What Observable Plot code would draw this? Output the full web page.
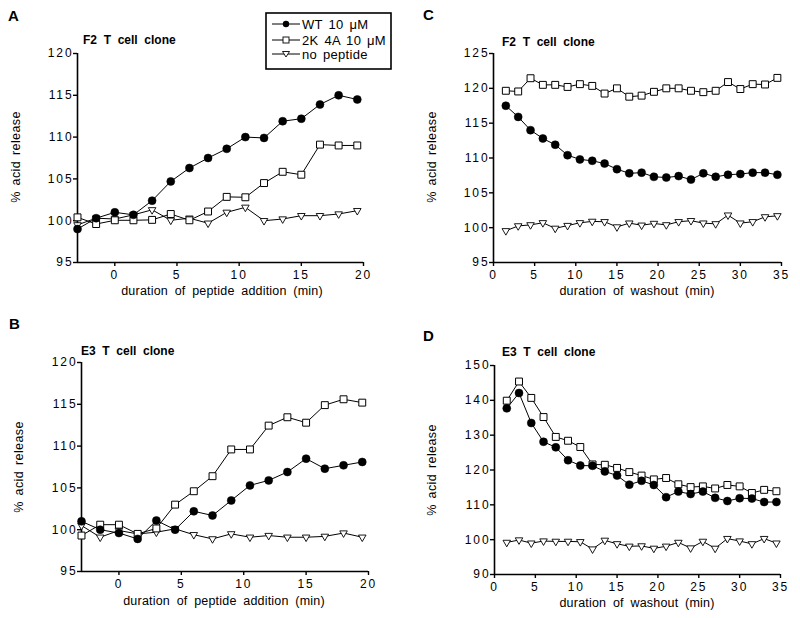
<!DOCTYPE html>
<html><head><meta charset="utf-8">
<script src="https://cdn.jsdelivr.net/npm/d3@7"></script>
<script src="https://cdn.jsdelivr.net/npm/@observablehq/plot@0.6"></script>
<style>
html,body{margin:0;padding:0;background:#fff;}
#root{position:relative;width:800px;height:618px;overflow:hidden;font-family:"Liberation Sans",Arial,Helvetica,sans-serif;background:#fff;}
.panel{position:absolute;}
.panel svg text{letter-spacing:1.9px;}
#overlay{position:absolute;left:0;top:0;}
</style></head><body><div id="root"></div>
<script>
// ---- data ----
const seriesNames = ["WT 10 μM", "2K 4A 10 μM", "no peptide"];
const timeAdd = [-3, -1.5, 0, 1.5, 3, 4.5, 6, 7.5, 9, 10.5, 12, 13.5, 15, 16.5, 18, 19.5];
const timeWash = [1.5, 3, 4.5, 6, 7.5, 9, 10.5, 12, 13.5, 15, 16.5, 18, 19.5, 21, 22.5, 24, 25.5, 27, 28.5, 30, 31.5, 33, 34.5];

// Panel A: F2, peptide addition
const aWT   = [99.0, 100.3, 101.0, 100.7, 102.4, 104.7, 106.3, 107.5, 108.6, 110.0, 109.9, 111.9, 112.2, 113.9, 115.0, 114.5];
const a2K4A = [100.4, 99.6, 100.05, 100.05, 100.1, 100.8, 100.05, 101.1, 102.85, 102.8, 104.5, 105.85, 105.5, 109.1, 109.0, 109.0];
const aNone = [99.5, 100.3, 100.2, 100.7, 101.3, 100.05, 100.3, 99.7, 101.0, 101.6, 100.0, 100.2, 100.6, 100.6, 100.8, 101.2];

// Panel B: E3, peptide addition
const bWT   = [101.0, 100.0, 99.6, 98.9, 101.1, 100.0, 102.2, 101.7, 103.5, 105.3, 105.9, 106.9, 108.5, 107.3, 107.7, 108.1];
const b2K4A = [99.3, 100.6, 100.6, 99.5, 100.15, 103.0, 104.6, 106.4, 109.6, 109.6, 112.45, 113.45, 112.8, 114.9, 115.6, 115.2];
const bNone = [100.5, 99.1, 99.9, 99.5, 99.7, 100.1, 99.4, 98.9, 99.5, 99.1, 99.3, 99.1, 99.1, 99.2, 99.6, 99.1];

// Panel C: F2, washout
const cWT   = [117.5, 115.9, 114.0, 112.8, 111.9, 110.4, 109.8, 109.6, 109.2, 108.4, 107.8, 107.9, 107.3, 107.2, 107.4, 106.9, 107.8, 107.3, 107.6, 107.7, 107.9, 107.9, 107.6];
const c2K4A = [119.65, 119.55, 121.45, 120.5, 120.5, 120.2, 120.6, 120.35, 119.25, 120.0, 118.8, 118.95, 119.5, 120.0, 120.0, 119.65, 119.45, 119.65, 120.9, 119.9, 120.6, 120.55, 121.5];
const cNone = [99.55, 100.25, 100.4, 100.7, 99.9, 100.3, 100.7, 100.9, 100.85, 100.1, 100.65, 100.35, 100.6, 100.4, 100.85, 101.0, 100.65, 100.55, 101.8, 100.65, 100.85, 101.55, 101.7];

// Panel D: E3, washout
const dWT   = [137.7, 142.1, 133.5, 128.1, 126.5, 122.8, 121.3, 121.2, 119.6, 118.4, 115.8, 116.9, 115.7, 112.2, 113.8, 113.1, 113.8, 112.0, 111.1, 111.9, 111.8, 110.8, 110.8];
const d2K4A = [139.9, 145.4, 140.7, 135.2, 129.5, 128.4, 126.6, 121.6, 121.5, 120.6, 119.4, 118.4, 117.3, 117.7, 115.9, 115.1, 115.3, 114.7, 115.7, 115.3, 113.4, 114.3, 113.9];
const dNone = [99.2, 99.9, 99.0, 99.6, 99.5, 99.5, 99.4, 97.3, 99.8, 98.8, 98.1, 98.2, 97.5, 98.1, 99.2, 97.6, 99.5, 97.5, 100.3, 99.6, 98.8, 100.3, 99.0];

const ticksAdd = [0, 5, 10, 15, 20];
const ticksWash = [0, 5, 10, 15, 20, 25, 30, 35];
const ticksY120 = [95, 100, 105, 110, 115, 120];
const ticksY125 = [95, 100, 105, 110, 115, 120, 125];
const ticksY150 = [90, 100, 110, 120, 130, 140, 150];

const panelLetters = ["A", "B", "C", "D"];
const cloneTitles = ["F2  T  cell  clone", "E3  T  cell  clone", "F2  T  cell  clone", "E3  T  cell  clone"];
const yLabel = "% acid release";
const xLabelAdd = "duration of peptide addition (min)";
const xLabelWash = "duration of washout (min)";

// ---- drawing ----
const root = document.getElementById("root");
const FONT = '"Liberation Sans", Arial, Helvetica, sans-serif';

const triDown = {
  draw(ctx, size) {
    const y = Math.sqrt(size / (3 * Math.sqrt(3)));
    ctx.moveTo(0, 2 * y);
    ctx.lineTo(Math.sqrt(3) * y, -y);
    ctx.lineTo(-Math.sqrt(3) * y, -y);
    ctx.closePath();
  }
};

function panel(cfg) {
  const rows = [];
  cfg.series.forEach((vals, i) => vals.forEach((v, j) => rows.push({t: cfg.time[j], v, s: i})));
  const svg = Plot.plot({
    width: cfg.w, height: cfg.h,
    marginLeft: cfg.m[0], marginRight: cfg.m[1], marginTop: cfg.m[2], marginBottom: cfg.m[3],
    x: {domain: cfg.xDomain},
    y: {domain: cfg.yDomain},
    style: {fontFamily: FONT, fontSize: "12px", color: "black", background: "transparent", overflow: "visible"},
    marks: [
      Plot.ruleX([cfg.xDomain[0]], {stroke: "black", strokeWidth: 1.6}),
      Plot.ruleY([cfg.yDomain[0]], {stroke: "black", strokeWidth: 1.6}),
      Plot.axisX({ticks: cfg.xTicks, tickSize: 4, tickPadding: 4, label: null, strokeWidth: 1.4}),
      Plot.axisY({ticks: cfg.yTicks, tickSize: 4, tickPadding: 0, label: null, strokeWidth: 1.4}),
      Plot.line(rows, {x: "t", y: "v", z: "s", stroke: "black", strokeWidth: 1}),
      Plot.dot(rows.filter(d => d.s === 2), {x: "t", y: "v", symbol: triDown, r: 2.8, fill: "white", stroke: "black", strokeWidth: 0.9}),
      Plot.dot(rows.filter(d => d.s === 1), {x: "t", y: "v", symbol: "square", r: 3.9, fill: "white", stroke: "black", strokeWidth: 1}),
      Plot.dot(rows.filter(d => d.s === 0), {x: "t", y: "v", symbol: "circle", r: 4, fill: "black", stroke: "black", strokeWidth: 0.5})
    ]
  });
  const div = document.createElement("div");
  div.className = "panel";
  div.style.left = cfg.left + "px";
  div.style.top = cfg.top + "px";
  div.appendChild(svg);
  root.appendChild(div);
}

panel({left: 0, top: 0, w: 400, h: 300, m: [77, 37, 53, 38], xDomain: [-3, 20], yDomain: [95, 120],
  xTicks: ticksAdd, yTicks: ticksY120, time: timeAdd, series: [aWT, a2K4A, aNone]});
panel({left: 0, top: 300, w: 400, h: 318, m: [81, 32, 62, 47], xDomain: [-3, 20], yDomain: [95, 120],
  xTicks: ticksAdd, yTicks: ticksY120, time: timeAdd, series: [bWT, b2K4A, bNone]});
panel({left: 400, top: 0, w: 400, h: 300, m: [93, 19, 53, 38], xDomain: [0, 35], yDomain: [95, 125],
  xTicks: ticksWash, yTicks: ticksY125, time: timeWash, series: [cWT, c2K4A, cNone]});
panel({left: 400, top: 300, w: 400, h: 318, m: [94, 20, 65, 44], xDomain: [0, 35], yDomain: [90, 150],
  xTicks: ticksWash, yTicks: ticksY150, time: timeWash, series: [dWT, d2K4A, dNone]});

// ---- overlay text & legend ----
const NS = "http://www.w3.org/2000/svg";
const ov = document.createElementNS(NS, "svg");
ov.setAttribute("id", "overlay");
ov.setAttribute("width", 800);
ov.setAttribute("height", 618);
ov.style.fontFamily = FONT;
root.appendChild(ov);

function txt(s, x, y, opts = {}) {
  const t = document.createElementNS(NS, "text");
  t.textContent = s;
  t.setAttribute("x", x);
  t.setAttribute("y", y);
  t.setAttribute("font-size", opts.size || 12);
  if (opts.bold) t.setAttribute("font-weight", "bold");
  if (opts.anchor) t.setAttribute("text-anchor", opts.anchor);
  if (opts.rotate) t.setAttribute("transform", `rotate(-90 ${x} ${y})`);
  t.style.whiteSpace = "pre";
  if (opts.ws) t.style.wordSpacing = opts.ws + "px";
  if (opts.ls) t.style.letterSpacing = opts.ls + "px";
  ov.appendChild(t);
  return t;
}

// panel letters
txt(panelLetters[0], 8, 21, {size: 15, bold: true});
txt(panelLetters[1], 9, 329, {size: 15, bold: true});
txt(panelLetters[2], 423, 20, {size: 15, bold: true});
txt(panelLetters[3], 423, 341, {size: 15, bold: true});

// clone titles
txt(cloneTitles[0], 83, 44, {size: 12, bold: true});
txt(cloneTitles[1], 81, 355, {size: 12, bold: true});
txt(cloneTitles[2], 502, 46, {size: 12, bold: true});
txt(cloneTitles[3], 502, 356, {size: 12, bold: true});

// y labels
txt(yLabel, 20, 157, {size: 12.5, anchor: "middle", rotate: true, ws: 2, ls: 0.4});
txt(yLabel, 23, 467, {size: 12.5, anchor: "middle", rotate: true, ws: 2, ls: 0.4});
txt(yLabel, 436, 157, {size: 12.5, anchor: "middle", rotate: true, ws: 2, ls: 0.4});
txt(yLabel, 436, 470, {size: 12.5, anchor: "middle", rotate: true, ws: 2, ls: 0.4});

// x labels
txt(xLabelAdd, 222, 295, {size: 12.5, anchor: "middle", ws: 3, ls: 0.2});
txt(xLabelAdd, 224, 605, {size: 12.5, anchor: "middle", ws: 3, ls: 0.2});
txt(xLabelWash, 637, 295, {size: 12.5, anchor: "middle", ws: 3, ls: 0.2});
txt(xLabelWash, 637, 607, {size: 12.5, anchor: "middle", ws: 3, ls: 0.2});

// legend
const box = document.createElementNS(NS, "rect");
box.setAttribute("x", 266); box.setAttribute("y", 13);
box.setAttribute("width", 125); box.setAttribute("height", 56);
box.setAttribute("fill", "white"); box.setAttribute("stroke", "black"); box.setAttribute("stroke-width", 1.6);
ov.appendChild(box);
const legendY = [24, 40, 54];
seriesNames.forEach((name, i) => {
  const y = legendY[i];
  const ln = document.createElementNS(NS, "line");
  ln.setAttribute("x1", 272); ln.setAttribute("x2", 300);
  ln.setAttribute("y1", y); ln.setAttribute("y2", y);
  ln.setAttribute("stroke", "black"); ln.setAttribute("stroke-width", 1);
  ov.appendChild(ln);
  let m;
  if (i === 0) {
    m = document.createElementNS(NS, "circle");
    m.setAttribute("cx", 286); m.setAttribute("cy", y); m.setAttribute("r", 3.2);
    m.setAttribute("fill", "black");
  } else if (i === 1) {
    m = document.createElementNS(NS, "rect");
    m.setAttribute("x", 283); m.setAttribute("y", y - 3); m.setAttribute("width", 6); m.setAttribute("height", 6);
    m.setAttribute("fill", "white"); m.setAttribute("stroke", "black"); m.setAttribute("stroke-width", 0.9);
  } else {
    m = document.createElementNS(NS, "path");
    m.setAttribute("d", `M282.5,${y - 2.5}L289.5,${y - 2.5}L286,${y + 3}Z`);
    m.setAttribute("fill", "white"); m.setAttribute("stroke", "black"); m.setAttribute("stroke-width", 0.9);
  }
  ov.appendChild(m);
  txt(name, 302, y + 4.5, {size: 13, ws: 2, ls: 0.3});
});
</script>
</body></html>
